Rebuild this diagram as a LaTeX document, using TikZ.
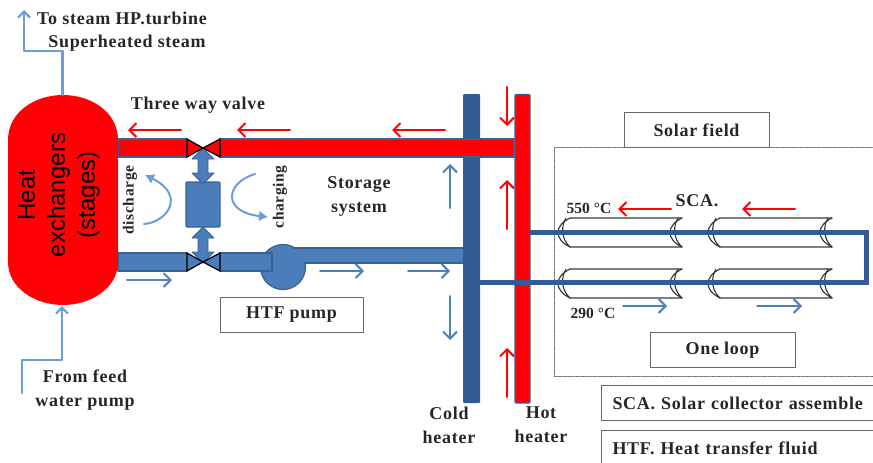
\documentclass[tikz,border=0pt]{standalone}
\usepackage{fontspec}
\setmainfont{Liberation Serif}
\newfontfamily\sansfont{Liberation Sans}
\newfontfamily\spacedfont[LetterSpace=4]{Liberation Serif}
\usepackage{tikz}
\usetikzlibrary{arrows.meta}
\definecolor{hotred}{rgb}{1, 0, 0.02}
\definecolor{pipeblue}{rgb}{0.29, 0.49, 0.73}
\definecolor{pipeedge}{rgb}{0.22, 0.38, 0.58}
\definecolor{darkpipe}{rgb}{0.2, 0.36, 0.58}
\definecolor{steamblue}{rgb}{0.42, 0.62, 0.85}
\definecolor{flowblue}{rgb}{0.31, 0.51, 0.74}
\definecolor{framegray}{rgb}{0.4, 0.4, 0.4}
\tikzset{
	caption/.style={font=\spacedfont\bfseries\fontsize{18}{21}\selectfont,text=black!85,align=center,inner sep=0pt},
	sidecaption/.style={caption,rotate=90,font=\spacedfont\bfseries\fontsize{15.5}{18}\selectfont},
	tempcaption/.style={caption,font=\bfseries\fontsize{15.5}{18}\selectfont},
	legend/.style={caption,draw=framegray,line width=0.9pt,fill=white,minimum height=35pt},
	hotpipe/.style={fill=hotred,draw=pipeedge,line width=1.2pt},
	coldpipe/.style={fill=pipeblue,draw=pipeedge,line width=1.2pt},
	valvehalf/.style={draw=black,line width=1.2pt,line join=miter},
	redflow/.style={draw=hotred,line width=2pt,-{Straight Barb[length=7pt,width=14pt]}},
	blueflow/.style={draw=flowblue,line width=2pt,-{Straight Barb[length=7pt,width=14pt]}},
	steamline/.style={draw=steamblue,line width=2.2pt,-{Straight Barb[length=6pt,width=12pt]}},
	bendflow/.style={draw=steamblue,line width=2pt,-{Latex[length=9pt,width=11pt]}},
	bothways/.style={draw=pipeedge,fill=pipeblue,line width=0.8pt},
}
\begin{document}
\begin{tikzpicture}[line cap=round,line join=round,x=1pt,y=-1pt]
	\useasboundingbox (0,0) rectangle (873,463);
	% solar field frame
	\draw[framegray,line width=0.7pt,densely dotted] (874,147) -- (554,147) -- (554,376) -- (874,376);
	% collectors
	\foreach \x in {558,708}
	\foreach \y in {218,269}
	{
		\draw[gray,line width=1.3pt] (\x+12,\y) -- (\x+124,\y);
		\draw[gray,line width=1.3pt] (\x+12,\y+29) -- (\x+124,\y+29);
		\foreach \d in {0,112}
		{
			\draw[black!80,line width=1.1pt] (\x+\d+12,\y+29) .. controls (\x+\d-4,\y+21) and (\x+\d-4,\y+8) .. (\x+\d+12,\y);
			\draw[black!80,line width=1.1pt] (\x+\d+12,\y+29) .. controls (\x+\d+3,\y+21) and (\x+\d+3,\y+8) .. (\x+\d+8,\y);
		}
	}
	% heaters and loop
	\fill[darkpipe,rounded corners=1pt] (463,94) rectangle (480,403);
	\draw[hotpipe,rounded corners=1pt] (515,94.5) rectangle (530,403);
	\draw[darkpipe,line width=5pt,line cap=butt,line join=miter] (530,232) -- (866,232) -- (866,282) -- (480,282);
	% hot branch
	\draw[hotpipe] (118,139) rectangle (187,157);
	\draw[hotpipe] (220,139) rectangle (514,157);
	% cold branch
	\draw[coldpipe] (283,267) circle (22.5);
	\fill[pipeblue] (290,248) rectangle (463,263);
	\draw[pipeedge,line width=1.2pt] (294,248) -- (463,248);
	\draw[pipeedge,line width=1.2pt] (304,263) -- (463,263);
	\draw[coldpipe] (118,253) rectangle (187,271);
	\draw[coldpipe] (220,253) rectangle (272,271);
	% storage tank with its two double arrows
	\draw[coldpipe,rounded corners=1pt] (186,182) rectangle (220,227);
	\foreach \y in {148,227}
	\draw[bothways] (203,\y) -- (214,\y+11) -- (208,\y+11) -- (208,\y+25) -- (214,\y+25) -- (203,\y+36) -- (192,\y+25) -- (198,\y+25) -- (198,\y+11) -- (192,\y+11) -- cycle;
	% valves
	\filldraw[valvehalf,fill=hotred] (187,139) -- (203,148) -- (187,157) -- cycle;
	\filldraw[valvehalf,fill=hotred] (220,139) -- (203,148) -- (220,157) -- cycle;
	\filldraw[valvehalf,fill=pipeblue] (187,253) -- (203,262) -- (187,271) -- cycle;
	\filldraw[valvehalf,fill=pipeblue] (220,253) -- (203,262) -- (220,271) -- cycle;
	% exchanger
	\fill[hotred] (8,140) .. controls (8,112) and (35,95) .. (63,95) .. controls (91,95) and (118,112) .. (118,140) -- (118,262) .. controls (118,288) and (91,305) .. (63,305) .. controls (35,305) and (8,288) .. (8,262) -- cycle;
	\node[rotate=90,align=center,inner sep=0pt,font=\sansfont\fontsize{24}{30}\selectfont,text=black] (exchanger) at (59,195) {Heat\\exchangers\\(stages)};
	% steam lines
	\draw[steamline] (62.5,95) -- (62.5,51) -- (24,51) -- (24,10);
	\draw[steamline] (22,393) -- (22,360) -- (62,360) -- (62,306);
	% flow arrows
	\foreach \a in {181,290,445}
	\draw[redflow] (\a,130) -- (\a-53,130);
	\foreach \a in {671,795}
	\draw[redflow] (\a,209) -- (\a-53,209);
	\draw[redflow] (507,87) -- (507,126);
	\foreach \a in {229,397}
	\draw[redflow] (507,\a) -- (507,\a-49);
	\draw[blueflow] (127,280) -- (172,280);
	\draw[blueflow] (320,271) -- (364,271);
	\draw[blueflow] (408,271) -- (450,271);
	\draw[blueflow] (450,208) -- (450,164);
	\draw[blueflow] (450,296) -- (450,340);
	\draw[blueflow] (623,306) -- (667,306);
	\draw[blueflow] (757,306) -- (802,306);
	\draw[bendflow] (144,224) .. controls (168,222) and (186,195) .. (145,175);
	\draw[bendflow] (255,174) .. controls (225,183) and (222,212) .. (268,217);
	% text
	\node[caption] (toturbine) at (122,18) {To steam HP.turbine};
	\node[caption] (superheated) at (127,43) {Superheated steam};
	\node[caption] (threeway) at (198,105) {Three way valve};
	\node[caption] (storage) at (359,196) {Storage\\[3pt]system};
	\node[sidecaption] (discharge) at (130,200) {discharge};
	\node[sidecaption] (charging) at (280,197) {charging};
	\node[caption] (feed) at (85,390) {From feed\\[3pt]water pump};
	\node[caption] (cold) at (449,425) {Cold\\[3pt]heater};
	\node[caption] (hot) at (541,425) {Hot\\[3pt]heater};
	\node[tempcaption] (hightemp) at (589,208) {550 °C};
	\node[tempcaption] (lowtemp) at (593,313) {290 °C};
	\node[caption] (sca) at (697,201) {SCA.};
	\node[legend,minimum width=143pt] (htfpump) at (291.5,315) {HTF pump};
	\node[legend,minimum width=145pt] (solar) at (696.5,130) {Solar field};
	\node[legend,minimum width=145pt] (loop) at (722.5,350) {One loop};
	\node[legend,minimum width=275pt,text width=253pt,align=left] (scanote) at (739,403) {SCA. Solar collector assemble};
	\node[legend,minimum width=275pt,text width=253pt,align=left] (htfnote) at (739,448) {HTF. Heat transfer fluid};
\end{tikzpicture}
\end{document}
